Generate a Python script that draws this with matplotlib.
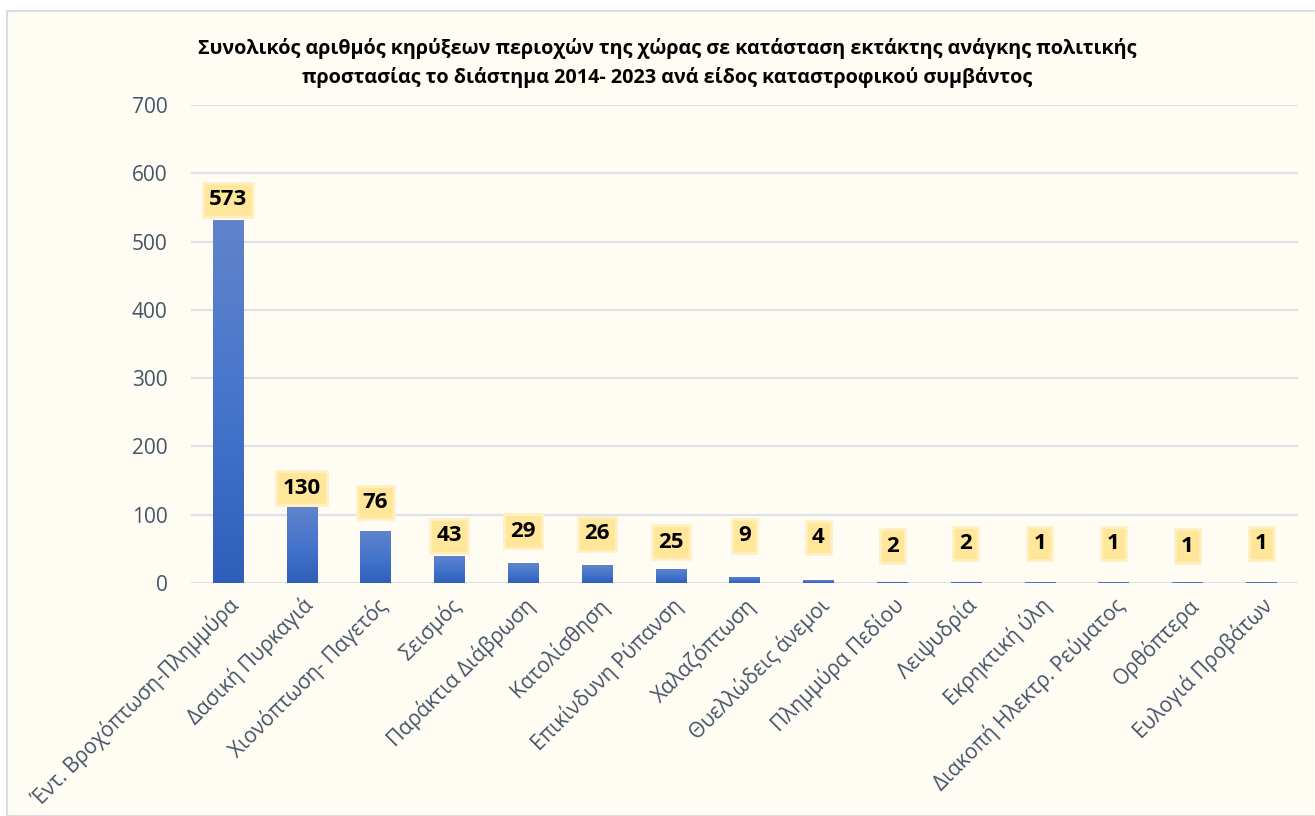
import numpy as np
import matplotlib.pyplot as plt
from matplotlib.patches import Rectangle

plt.rcParams['font.family'] = ['Open Sans', 'Noto Sans', 'DejaVu Sans']

# Κατηγορίες καταστροφικών συμβάντων
categories = ['Έντ. Βροχόπτωση-Πλημμύρα', 'Δασική Πυρκαγιά', 'Χιονόπτωση- Παγετός',
              'Σεισμός', 'Παράκτια Διάβρωση', 'Κατολίσθηση', 'Επικίνδυνη Ρύπανση',
              'Χαλαζόπτωση', 'Θυελλώδεις άνεμοι', 'Πλημμύρα Πεδίου', 'Λειψυδρία',
              'Εκρηκτική ύλη', 'Διακοπή Ηλεκτρ. Ρεύματος', 'Ορθόπτερα', 'Ευλογιά Προβάτων']
# ύψη ράβδων όπως σχεδιάζονται στο γράφημα
bar_values = [531, 112, 76, 40, 29, 26, 21, 9, 4, 1.5, 1.5, 1, 1, 1, 1]
# τιμές των ετικετών
label_values = [573, 130, 76, 43, 29, 26, 25, 9, 4, 2, 2, 1, 1, 1, 1]
# θέση (κέντρο) των ετικετών, μονάδες άξονα y
label_y = [561, 139, 118, 69, 76, 72, 60, 69, 67, 54, 58, 58, 58, 54, 58]

title = ('Συνολικός αριθμός κηρύξεων περιοχών της χώρας σε κατάσταση εκτάκτης ανάγκης πολιτικής\n'
         'προστασίας το διάστημα 2014- 2023 ανά είδος καταστροφικού συμβάντος')

bg = '#FFFCF3'
txt = '#44546A'

fig = plt.figure(figsize=(13.15, 8.16), dpi=100)
fig.patch.set_facecolor('white')
fig.patches.append(Rectangle((7/1315, 0), 1.2, (816-11)/816, transform=fig.transFigure,
                             facecolor=bg, edgecolor='#D9DDE3', linewidth=1.5, zorder=-10))

ax = fig.add_axes([191/1315, 1-583/816, 1107/1315, 478/816])
ax.set_facecolor(bg)
x = np.arange(len(categories))
bars = ax.bar(x, bar_values, width=0.41, color='#4472C4', zorder=2)

# κάθετη διαβάθμιση χρώματος σε κάθε ράβδο
grad = np.linspace(0, 1, 256).reshape(-1, 1)
cmap = plt.matplotlib.colors.LinearSegmentedColormap.from_list('g', ['#2F5FB9', '#4675CC', '#6184CB'])
for b in bars:
    x0, w, h = b.get_x(), b.get_width(), b.get_height()
    im = ax.imshow(grad, cmap=cmap, extent=(x0, x0 + w, 0, h), origin='lower',
                   aspect='auto', zorder=3)
    im.set_clip_path(b)

for xi, v, ly in zip(x, label_values, label_y):
    ax.text(xi, ly, str(v), ha='center', va='center', fontsize=16, fontweight='bold',
            color='black', zorder=5,
            bbox=dict(boxstyle='square,pad=0.28', facecolor='#FFE699', edgecolor='#FFF0C4', linewidth=2))

ax.set_xlim(-0.5, len(categories) - 0.5)
ax.set_ylim(0, 700)
ax.set_yticks(np.arange(0, 701, 100))
ax.yaxis.grid(True, color='#DDE1E8', linewidth=1.6, zorder=0)
ax.set_axisbelow(True)
for s in ax.spines.values():
    s.set_visible(False)
ax.tick_params(axis='both', length=0, colors=txt)
ax.tick_params(axis='y', pad=17, labelsize=15)
ax.set_xticks(x)
ax.set_xticklabels(categories, rotation=45, ha='right', va='top', rotation_mode='anchor',
                   fontsize=15, color=txt)
ax.tick_params(axis='x', pad=8)

fig.text(667/1315, 1-63/816, title, ha='center', va='center', fontsize=14.2,
         fontweight='bold', color='black', linespacing=1.45)

fig.savefig('out.png', dpi=100, facecolor=fig.get_facecolor())
